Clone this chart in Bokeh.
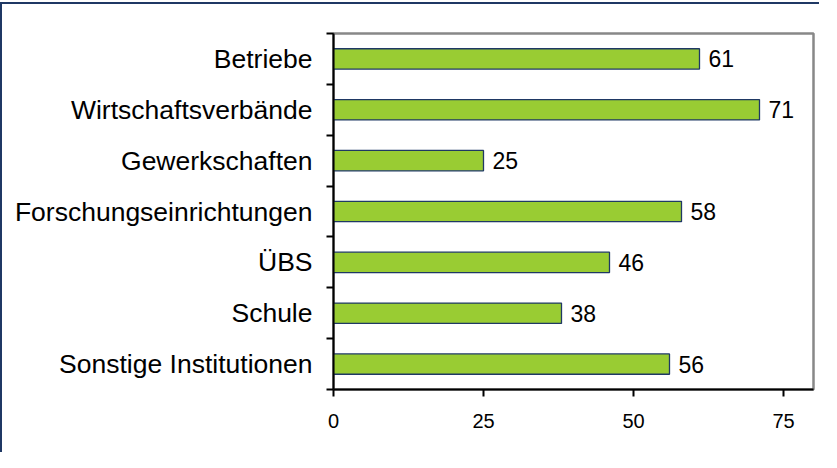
from bokeh.plotting import figure
from bokeh.models import ColumnDataSource, FixedTicker
from bokeh.core.properties import value
from bokeh.embed import file_html
from bokeh.resources import INLINE

# Data (top to bottom as in the chart)
categories = ["Betriebe", "Wirtschaftsverbände", "Gewerkschaften",
              "Forschungseinrichtungen", "ÜBS", "Schule", "Sonstige Institutionen"]
values = [61, 71, 25, 58, 46, 38, 56]
x_ticks = [0, 25, 50, 75]

n = len(categories)
ypos = [n - i - 0.5 for i in range(n)]
src = ColumnDataSource(dict(y=ypos, v=values, lbl=[str(v) for v in values]))

FONT = "Liberation Sans"
NAVY = "#1F3864"

p = figure(width=819, height=450, x_range=(0, 80), y_range=(0, n),
           output_backend="svg", toolbar_location=None,
           min_border_left=331, min_border_right=8,
           min_border_top=29, min_border_bottom=65)
p.styles = {"border-left": "2px solid " + NAVY, "border-top": "2px solid " + NAVY,
            "position": "relative", "top": "2px"}

p.hbar(y="y", right="v", left=0, height=0.4, source=src,
       fill_color="#99CC33", line_color=NAVY, line_width=1.3)
p.text(x="v", y="y", text="lbl", source=src, x_offset=9,
       text_align="left", text_baseline="middle",
       text_font=value(FONT), text_font_size="23px", text_color="#000000")

p.xgrid.visible = False
p.ygrid.visible = False
p.outline_line_color = "#888888"
p.outline_line_width = 2.5
p.background_fill_color = "white"
p.border_fill_color = "white"

xa = p.xaxis[0]
xa.ticker = FixedTicker(ticks=x_ticks, minor_ticks=[])
xa.axis_line_color = "black"
xa.axis_line_width = 2
xa.major_tick_out = 7
xa.major_tick_in = 0
xa.major_tick_line_width = 2
xa.minor_tick_line_color = None
xa.major_label_standoff = 17
xa.major_label_text_font = FONT
xa.major_label_text_font_size = "20px"
xa.major_label_text_color = "black"

ya = p.yaxis[0]
ya.ticker = FixedTicker(ticks=ypos, minor_ticks=list(range(n + 1)))
ya.major_label_overrides = {y: c for y, c in zip(ypos, categories)}
ya.axis_line_color = "black"
ya.axis_line_width = 2
ya.major_tick_line_color = None
ya.major_tick_out = 0
ya.major_tick_in = 0
ya.minor_tick_out = 7
ya.minor_tick_in = 0
ya.minor_tick_line_width = 2
ya.minor_tick_line_color = "black"
ya.major_label_standoff = 14
ya.major_label_text_font = FONT
ya.major_label_text_font_size = "26.5px"
ya.major_label_text_color = "black"

open("out.html", "w").write(file_html(p, INLINE))
